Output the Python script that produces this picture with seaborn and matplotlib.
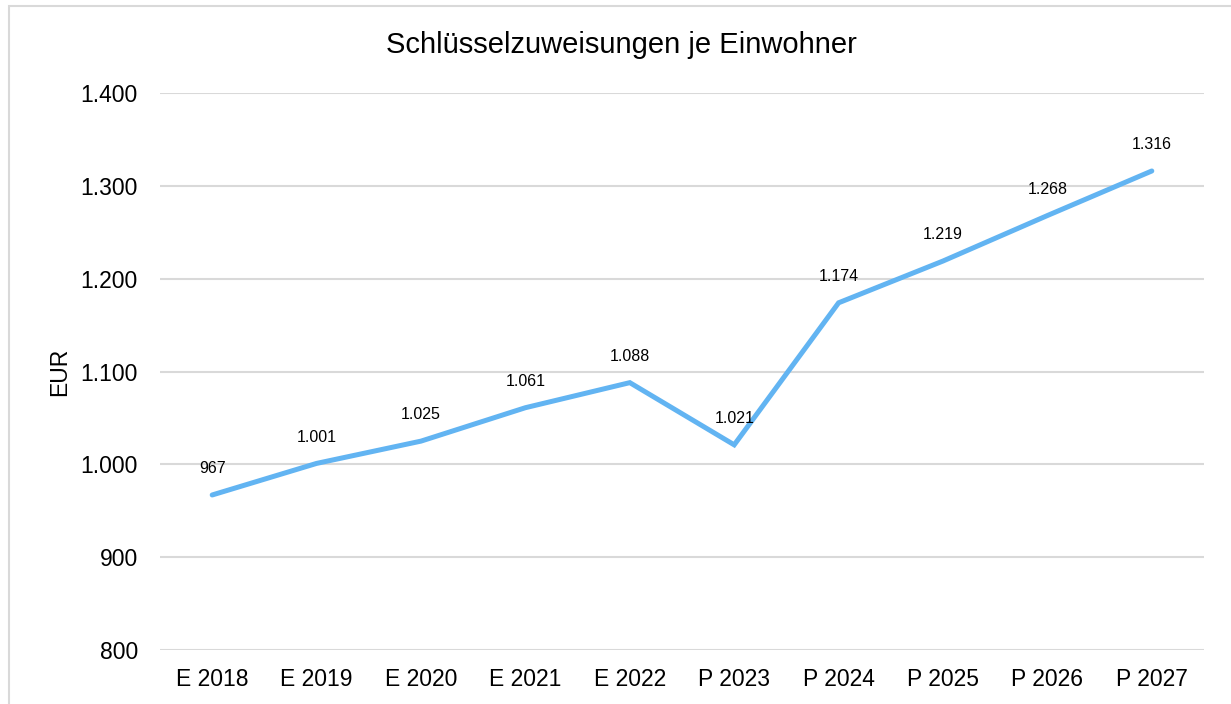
import matplotlib
matplotlib.use("Agg")
import matplotlib.pyplot as plt
import seaborn as sns
import pandas as pd
from matplotlib.ticker import FuncFormatter
from matplotlib.patches import Rectangle

categories = ["E 2018", "E 2019", "E 2020", "E 2021", "E 2022",
              "P 2023", "P 2024", "P 2025", "P 2026", "P 2027"]
values = [967, 1001, 1025, 1061, 1088, 1021, 1174, 1219, 1268, 1316]
y_ticks = [800, 900, 1000, 1100, 1200, 1300, 1400]

sns.set_theme(style="white")
plt.rcParams['font.family'] = ['Liberation Sans', 'DejaVu Sans']

W, H = 1231, 704
fig = plt.figure(figsize=(W / 100, H / 100), dpi=100)
ax = fig.add_axes([160 / W, 1 - 650 / H, (1204 - 160) / W, (650 - 93) / H])

df = pd.DataFrame({"cat": categories, "val": values})
df["x"] = range(len(categories))
sns.lineplot(data=df, x="x", y="val", ax=ax, color="#62b4f2", linewidth=3.6,
             solid_joinstyle="miter")

def de_fmt(v):
    s = f"{int(round(v)):,}"
    return s.replace(",", ".")

for xi, v in zip(df["x"], values):
    ax.annotate(de_fmt(v), (xi, v), xytext=(0, 19), textcoords="offset points",
                ha="center", va="center", fontsize=11.5, color="#000000")

ax.set_xlim(-0.5, len(categories) - 0.5)
ax.set_ylim(800, 1400)
ax.set_yticks(y_ticks)
ax.yaxis.set_major_formatter(FuncFormatter(lambda v, p: de_fmt(v)))
ax.set_xticks(list(df["x"]))
ax.set_xticklabels(categories)
ax.grid(axis="y", color="#d9d9d9", linewidth=1.5)
ax.grid(axis="x", visible=False)
for s in ax.spines.values():
    s.set_visible(False)
ax.tick_params(axis="both", length=0, labelsize=16.5, colors="#000000")
ax.tick_params(axis="y", pad=16)
ax.tick_params(axis="x", pad=13)
ax.set_xlabel("")
ax.set_ylabel("EUR", fontsize=16.5, color="#000000", labelpad=7)
fig.text(621 / W, 1 - 53 / H, "Schlüsselzuweisungen je Einwohner", fontsize=21,
         color="#000000", ha="center", va="baseline")

fig.patches.append(Rectangle((9 / W, -0.1), 1.2, 1 - 6 / H + 0.1, transform=fig.transFigure,
                             fill=False, edgecolor="#d9d9d9", linewidth=1.5))

fig.savefig("out.png", dpi=100)
